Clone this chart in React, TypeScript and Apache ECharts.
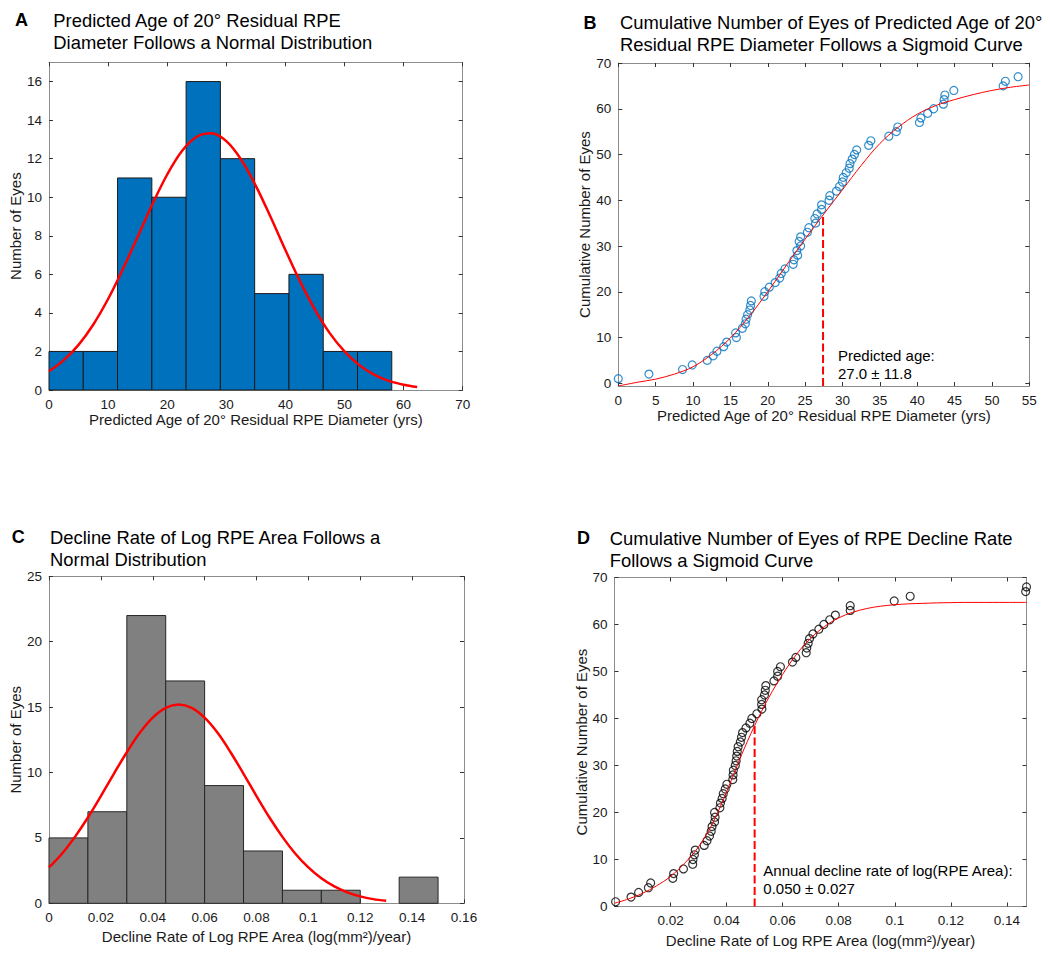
import React, { useEffect, useRef } from "react";
import * as echarts from "echarts";

const FONT = '"Liberation Sans", Arial, Helvetica, sans-serif';
const TEXT = "#1a1a1a";
const FRAME = "#8c8c8c";
const TICK = "#333333";

// ---------- Panel A ----------
const histAEdges = [0, 5.8, 11.6, 17.4, 23.2, 29, 34.8, 40.6, 46.4, 52.2, 58];
const histACounts = [2, 2, 11, 10, 16, 12, 5, 6, 2, 2];
const fitAX = [0, 2.5, 5, 7.5, 10, 12.5, 15, 17.5, 20, 22.5, 25, 27.5, 30, 32.5, 35, 37.5, 40, 42.5, 45, 47.5, 50, 52.5, 55, 57.5, 60, 62.3];
const fitAY = [0.97, 1.55, 2.34, 3.4, 4.72, 6.27, 7.95, 9.64, 11.18, 12.4, 13.14, 13.32, 12.91, 11.96, 10.59, 8.97, 7.26, 5.62, 4.17, 2.95, 2.0, 1.29, 0.8, 0.47, 0.27, 0.15];
const ticksAX = [0, 10, 20, 30, 40, 50, 60, 70];
const ticksAY = [0, 2, 4, 6, 8, 10, 12, 14, 16];

// ---------- Panel B ----------
const ageB = [0, 4.1, 8.6, 9.9, 11.9, 12.7, 13.2, 14.1, 14.5, 15.8, 15.7, 16.6, 17.0, 17.1, 17.3, 17.6, 17.7, 17.8, 19.5, 19.6, 20.2, 21.0, 21.6, 21.8, 22.3, 23.4, 23.5, 24.0, 23.9, 24.4, 24.2, 24.4, 25.3, 25.5, 26.4, 26.3, 26.6, 27.2, 27.2, 28.2, 28.3, 29.2, 29.6, 30.0, 30.1, 30.5, 30.9, 31.0, 31.3, 31.6, 31.9, 33.5, 33.8, 36.2, 37.2, 37.4, 40.3, 40.5, 41.4, 42.2, 43.5, 43.6, 43.7, 44.9, 51.5, 51.8, 53.5];
const cumB = [1, 2, 3, 4, 5, 6, 7, 8, 9, 10, 11, 12, 13, 14, 15, 16, 17, 18, 19, 20, 21, 22, 23, 24, 25, 26, 27, 28, 29, 30, 31, 32, 33, 34, 35, 36, 37, 38, 39, 40, 41, 42, 43, 44, 45, 46, 47, 48, 49, 50, 51, 52, 53, 54, 55, 56, 57, 58, 59, 60, 61, 62, 63, 64, 65, 66, 67];
const sigBX = [0, 2.5, 5, 7.5, 10, 12.5, 15, 17.5, 20, 22.5, 25, 27.5, 30, 32.5, 35, 37.5, 40, 42.5, 45, 47.5, 50, 52.5, 55];
const sigBY = [-0.6, 0.2, 0.9, 2.0, 3.6, 6.3, 9.9, 14.6, 20.0, 25.8, 31.5, 37.0, 42.3, 47.6, 52.4, 56.0, 58.8, 60.7, 62.0, 63.1, 64.0, 64.7, 65.2];
const predictedAgeB = 27.4;
const predictedTopB = 36.8;
const ticksBX = [0, 5, 10, 15, 20, 25, 30, 35, 40, 45, 50, 55];
const ticksBY = [0, 10, 20, 30, 40, 50, 60, 70];

// ---------- Panel C ----------
const histCEdges = [0, 0.015, 0.03, 0.045, 0.06, 0.075, 0.09, 0.105, 0.12, 0.135, 0.15];
const histCCounts = [5, 7, 22, 17, 9, 4, 1, 1, 0, 2];
const fitCX = [0, 0.005, 0.01, 0.015, 0.02, 0.025, 0.03, 0.035, 0.04, 0.045, 0.05, 0.055, 0.06, 0.065, 0.07, 0.075, 0.08, 0.085, 0.09, 0.095, 0.1, 0.105, 0.11, 0.115, 0.12, 0.125, 0.13];
const fitCY = [2.74, 3.79, 5.08, 6.56, 8.2, 9.9, 11.55, 13.03, 14.19, 14.94, 15.2, 14.94, 14.19, 13.03, 11.55, 9.9, 8.2, 6.56, 5.08, 3.79, 2.74, 1.91, 1.29, 0.84, 0.53, 0.32, 0.19];
const ticksCX = [0, 0.02, 0.04, 0.06, 0.08, 0.1, 0.12, 0.14, 0.16];
const ticksCY = [0, 5, 10, 15, 20, 25];

// ---------- Panel D ----------
const rateD = [0.0004, 0.0059, 0.0086, 0.0121, 0.0129, 0.0208, 0.0211, 0.0246, 0.0279, 0.028, 0.0285, 0.0288, 0.032, 0.033, 0.0339, 0.0345, 0.0348, 0.0357, 0.0359, 0.0357, 0.0376, 0.0378, 0.0384, 0.0388, 0.0395, 0.0401, 0.0422, 0.0423, 0.0424, 0.0431, 0.0434, 0.0436, 0.0438, 0.0441, 0.0449, 0.0453, 0.0457, 0.0469, 0.0483, 0.049, 0.0508, 0.0526, 0.0525, 0.0525, 0.0535, 0.0538, 0.054, 0.0569, 0.0582, 0.0582, 0.0592, 0.0635, 0.0647, 0.0684, 0.0686, 0.0691, 0.0696, 0.0708, 0.0729, 0.0747, 0.0768, 0.0788, 0.0841, 0.0841, 0.0998, 0.1055, 0.1467, 0.147];
const cumD = [1, 2, 3, 4, 5, 6, 7, 8, 9, 10, 11, 12, 13, 14, 15, 16, 17, 18, 19, 20, 21, 22, 23, 24, 25, 26, 27, 28, 29, 30, 31, 32, 33, 34, 35, 36, 37, 38, 39, 40, 41, 42, 43, 44, 45, 46, 47, 48, 49, 50, 51, 52, 53, 54, 55, 56, 57, 58, 59, 60, 61, 62, 63, 64, 65, 66, 67, 68];
const sigDX = [0, 0.005, 0.01, 0.015, 0.02, 0.025, 0.03, 0.035, 0.04, 0.045, 0.05, 0.055, 0.06, 0.065, 0.07, 0.075, 0.08, 0.085, 0.09, 0.095, 0.1, 0.105, 0.11, 0.115, 0.12, 0.125, 0.13, 0.135, 0.14, 0.147];
const sigDY = [0.7, 1.6, 2.8, 4.4, 6.4, 9.2, 12.7, 17.7, 24.4, 31.8, 38.5, 44.4, 49.4, 53.7, 57.1, 59.6, 61.4, 62.6, 63.4, 63.9, 64.2, 64.4, 64.5, 64.6, 64.65, 64.7, 64.7, 64.7, 64.7, 64.7];
const declineRateD = 0.05;
const declineTopD = 38.5;
const ticksDX = [0.02, 0.04, 0.06, 0.08, 0.1, 0.12, 0.14];
const ticksDY = [0, 10, 20, 30, 40, 50, 60, 70];

const zip = (xs: number[], ys: number[]) => xs.map((x, i) => [x, ys[i]]);
const histData = (edges: number[], counts: number[]) =>
  counts.map((c, i) => [edges[i], edges[i + 1], c]);

const axis = (
  gridIndex: number,
  min: number,
  max: number,
  ticks: number[],
  position: string,
  showLabels: boolean,
  name?: string,
  nameGap?: number
) => ({
  type: "value",
  gridIndex,
  min,
  max,
  position,
  splitLine: { show: false },
  axisLine: { show: true, onZero: false, lineStyle: { color: FRAME, width: 1 } },
  axisTick: { show: true, inside: true, length: 4, customValues: ticks, lineStyle: { color: TICK, width: 1 } },
  axisLabel: {
    show: showLabels,
    customValues: ticks,
    color: TEXT,
    fontSize: 13.5,
    fontFamily: FONT,
    margin: 7,
  },
  name: name || "",
  nameLocation: "middle",
  nameGap: nameGap || 0,
  nameTextStyle: { color: TEXT, fontSize: 15, fontFamily: FONT, lineHeight: 15 },
});

const grids = [
  { left: 49, top: 62.3, width: 413.7, height: 327.7 },
  { left: 618.3, top: 63, width: 411, height: 323 },
  { left: 49, top: 576.3, width: 415, height: 327 },
  { left: 614.5, top: 577.5, width: 412, height: 329 },
];

const xAxes = [
  axis(0, 0, 70, ticksAX, "bottom", true, "Predicted Age of 20° Residual RPE Diameter (yrs)", 22),
  axis(0, 0, 70, ticksAX, "top", false),
  axis(1, 0, 55, ticksBX, "bottom", true, "Predicted Age of 20° Residual RPE Diameter (yrs)", 21),
  axis(1, 0, 55, ticksBX, "top", false),
  axis(2, 0, 0.16, ticksCX, "bottom", true, "Decline Rate of Log RPE Area (log(mm²)/year)", 26),
  axis(2, 0, 0.16, ticksCX, "top", false),
  axis(3, 0, 0.147, ticksDX, "bottom", true, "Decline Rate of Log RPE Area (log(mm²)/year)", 26),
  axis(3, 0, 0.147, ticksDX, "top", false),
];
const yAxes = [
  axis(0, 0, 17, ticksAY, "left", true, "Number of Eyes", 26.5),
  axis(0, 0, 17, ticksAY, "right", false),
  axis(1, -0.6, 70, ticksBY, "left", true, "Cumulative Number of Eyes", 24.5),
  axis(1, -0.6, 70, ticksBY, "right", false),
  axis(2, 0, 25, ticksCY, "left", true, "Number of Eyes", 24),
  axis(2, 0, 25, ticksCY, "right", false),
  axis(3, 0, 70, ticksDY, "left", true, "Cumulative Number of Eyes", 26),
  axis(3, 0, 70, ticksDY, "right", false),
];

const histSeries = (g: number, data: number[][], fill: string, stroke: string) => ({
  type: "custom",
  coordinateSystem: "cartesian2d",
  xAxisIndex: g * 2,
  yAxisIndex: g * 2,
  encode: { x: [0, 1], y: 2 },
  data,
  renderItem: (params: any, api: any) => {
    const c = api.value(2);
    if (!c) return null;
    const p0 = api.coord([api.value(0), 0]);
    const p1 = api.coord([api.value(1), c]);
    return {
      type: "rect",
      shape: { x: p0[0], y: p1[1], width: p1[0] - p0[0], height: p0[1] - p1[1] },
      style: { fill, stroke, lineWidth: 1 },
    };
  },
});

const lineSeries = (g: number, data: number[][], width: number, dashed = false) => ({
  type: "line",
  xAxisIndex: g * 2,
  yAxisIndex: g * 2,
  data,
  symbol: "none",
  showSymbol: false,
  smooth: dashed ? false : 0.35,
  lineStyle: { color: "#ff0000", width, type: dashed ? [8, 3.5] : "solid" },
  z: 5,
});

const scatterSeries = (g: number, data: number[][], color: string) => ({
  type: "scatter",
  xAxisIndex: g * 2,
  yAxisIndex: g * 2,
  data,
  symbol: "circle",
  symbolSize: 8,
  itemStyle: { color: "rgba(0,0,0,0)", borderColor: color, borderWidth: 1.2 },
  z: 3,
});

const txt = (text: string, x: number, y: number, size: number, bold = false) => ({
  type: "text",
  x,
  y,
  style: {
    text,
    fontSize: size,
    fontFamily: FONT,
    fontWeight: bold ? "bold" : "normal",
    fill: "#000",
    align: "left",
    verticalAlign: "middle",
  },
});

const option = {
  animation: false,
  backgroundColor: "#ffffff",
  grid: grids,
  xAxis: xAxes,
  yAxis: yAxes,
  series: [
    histSeries(0, histData(histAEdges, histACounts), "#0072BD", "#1a1a1a"),
    lineSeries(0, zip(fitAX, fitAY), 2.5),
    scatterSeries(1, zip(ageB, cumB), "#0072BD"),
    lineSeries(1, zip(sigBX, sigBY), 1),
    lineSeries(1, [[predictedAgeB, -0.6], [predictedAgeB, predictedTopB]], 2, true),
    histSeries(2, histData(histCEdges, histCCounts), "#808080", "#262626"),
    lineSeries(2, zip(fitCX, fitCY), 2.5),
    scatterSeries(3, zip(rateD, cumD), "#000000"),
    lineSeries(3, zip(sigDX, sigDY), 1),
    lineSeries(3, [[declineRateD, 0], [declineRateD, declineTopD]], 2, true),
  ],
  graphic: [
    txt("A", 15, 20, 18, true),
    txt("Predicted Age of 20° Residual RPE", 53.3, 20, 18.4),
    txt("Diameter Follows a Normal Distribution", 53.3, 42, 18.4),
    txt("B", 583.5, 22.7, 18, true),
    txt("Cumulative Number of Eyes of Predicted Age of 20°", 620, 22.7, 18.4),
    txt("Residual RPE Diameter Follows a Sigmoid Curve", 620, 44.3, 18.4),
    txt("C", 11.7, 537, 18, true),
    txt("Decline Rate of Log RPE Area Follows a", 50, 537, 18.4),
    txt("Normal Distribution", 50, 559, 18.4),
    txt("D", 577, 538, 18, true),
    txt("Cumulative Number of Eyes of RPE Decline Rate", 609.8, 538, 18.4),
    txt("Follows a Sigmoid Curve", 609.8, 560, 18.4),
    txt("Predicted age:", 838, 355, 15),
    txt("27.0 ± 11.8", 838, 373.3, 15),
    txt("Annual decline rate of log(RPE Area):", 763.3, 870, 15),
    txt("0.050 ± 0.027", 763.3, 888.3, 15),
  ],
};

export default function App() {
  const ref = useRef<HTMLDivElement>(null);
  useEffect(() => {
    if (!ref.current) return;
    const chart = echarts.init(ref.current, null, { renderer: "svg", width: 1050, height: 956 });
    chart.setOption(option as any);
    return () => chart.dispose();
  }, []);
  return (
    <div
      ref={ref}
      style={{ position: "absolute", left: 0, top: 0, width: 1050, height: 956, background: "#fff" }}
    />
  );
}
